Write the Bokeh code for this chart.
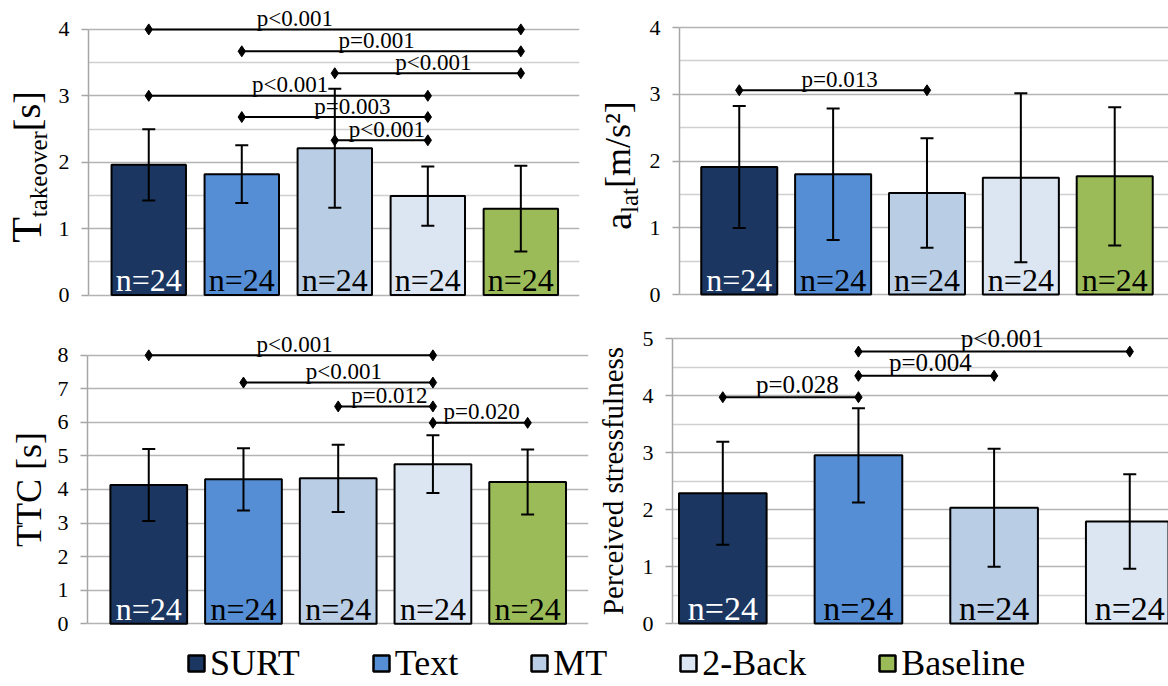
import math
from bokeh.plotting import figure
from bokeh.models import Range1d, FixedTicker, Legend, LegendItem, ColumnDataSource
from bokeh.layouts import column, row
from bokeh.embed import file_html
from bokeh.resources import INLINE
from bokeh.core.properties import value

FONT = "Liberation Serif"

# ---------------------------------------------------------------- data
conditions = ["SURT", "Text", "MT", "2-Back", "Baseline"]
bar_colors = ["#1b3660", "#558ed5", "#b9cde5", "#dce6f2", "#9bbb59"]
n_colors = ["white", "black", "black", "black", "black"]

# take-over time [s]
takeover_mean = [1.96, 1.82, 2.21, 1.49, 1.30]
takeover_sd = [0.535, 0.435, 0.895, 0.447, 0.645]
takeover_n = [24, 24, 24, 24, 24]
# (first group, second group, bracket level, result)
takeover_tests = [
    (1, 5, 4.00, "p<0.001"),
    (2, 5, 3.67, "p=0.001"),
    (3, 5, 3.34, "p<0.001"),
    (1, 4, 3.00, "p<0.001"),
    (2, 4, 2.68, "p=0.003"),
    (3, 4, 2.33, "p<0.001"),
]

# lateral acceleration [m/s²]
lat_mean = [1.91, 1.80, 1.52, 1.75, 1.77]
lat_sd = [0.915, 0.985, 0.82, 1.265, 1.035]
lat_n = [24, 24, 24, 24, 24]
lat_tests = [(1, 3, 3.06, "p=0.013")]

# time to collision [s]
ttc_mean = [4.13, 4.30, 4.33, 4.75, 4.22]
ttc_sd = [1.07, 0.925, 1.00, 0.86, 0.965]
ttc_n = [24, 24, 24, 24, 24]
ttc_tests = [
    (1, 4, 7.99, "p<0.001"),
    (2, 4, 7.18, "p<0.001"),
    (3, 4, 6.47, "p=0.012"),
    (4, 5, 5.98, "p=0.020"),
]

# perceived stressfulness
stress_mean = [2.285, 2.95, 2.03, 1.79]
stress_sd = [0.905, 0.825, 1.035, 0.83]
stress_n = [24, 24, 24, 24]
stress_tests = [
    (1, 2, 3.97, "p=0.028"),
    (2, 3, 4.345, "p=0.004"),
    (2, 4, 4.77, "p<0.001"),
]

# ---------------------------------------------------------------- helpers
# Times-compatible advance widths (em) for the axis-title glyphs
ADV = {"T": .611, "C": .667, "a": .444, "k": .5, "e": .444, "o": .5, "v": .5,
       "r": .333, "t": .278, "l": .278, " ": .25, "[": .333, "]": .333,
       "s": .389, "m": .778, "/": .278, "²": .3, "P": .556, "c": .444,
       "i": .278, "d": .5, "f": .333, "u": .5, "n": .5}

AXIS_ROOM = 31  # room kept for ticks and tick labels left of each frame


def text_px(t, size):
    return sum(ADV[c] for c in t) * size


def make_panel(width, height, left, right, top, bottom, first_x, step, zero_y, ppu,
               ymax, major, minor, title_pieces, title_mid):
    """A title strip plus a bar panel; pixel geometry is given for the whole cell."""
    tw = left - AXIS_ROOM
    y0 = -(bottom - zero_y) / ppu
    y1 = (zero_y - top) / ppu
    x0 = 1 - (first_x - left) / step
    x1 = 1 + (right - first_x) / step

    # vertical axis title drawn as rotated text in its own strip
    t = figure(width=tw, height=height, x_range=Range1d(0, tw), y_range=Range1d(y0, y1),
               min_border_left=0, min_border_right=0, min_border_top=top,
               min_border_bottom=height - bottom, x_axis_type=None, y_axis_type=None,
               toolbar_location=None, output_backend="svg", outline_line_color=None)
    total = sum(text_px(s, fs) for s, fs, _ in title_pieces)
    y = ymax / 2 - total / 2 / ppu
    for s, fs, dx in title_pieces:
        t.text(x=[title_mid + dx], y=[y], text=[s], angle=math.pi / 2,
               text_font=value(FONT), text_font_size=f"{fs}px", text_color="black",
               text_align="left", text_baseline="middle")
        y += text_px(s, fs) / ppu

    p = figure(width=width - tw, height=height,
               x_range=Range1d(x0, x1), y_range=Range1d(y0, y1),
               min_border_left=AXIS_ROOM, min_border_right=width - right,
               min_border_top=top, min_border_bottom=height - bottom,
               x_axis_type=None, toolbar_location=None, output_backend="svg",
               outline_line_color=None, background_fill_color="white")
    p.yaxis.ticker = FixedTicker(ticks=major, minor_ticks=minor)
    p.yaxis.bounds = (0, ymax)
    p.yaxis.axis_line_color = "#a6a6a6"
    p.yaxis.axis_line_width = 1.5
    p.yaxis.major_tick_line_color = "#a6a6a6"
    p.yaxis.major_tick_line_width = 1.5
    p.yaxis.major_tick_out = 7
    p.yaxis.major_tick_in = 0
    p.yaxis.minor_tick_out = 0
    p.yaxis.minor_tick_in = 0
    p.yaxis.major_label_text_font = FONT
    p.yaxis.major_label_text_font_size = "22px"
    p.yaxis.major_label_text_color = "black"
    p.yaxis.major_label_standoff = 12
    p.ygrid.grid_line_color = "#b4b4b4"
    p.ygrid.grid_line_width = 1.5
    p.ygrid.minor_grid_line_color = "#d0d0d0" if minor else None
    p.ygrid.minor_grid_line_width = 1.5
    p.xgrid.visible = False
    return t, p


def draw_bars(p, means, sds, ns, tests, shifts, bar_width, n_size, p_size, p_lift):
    k = len(means)
    xs = list(range(1, k + 1))
    p.vbar(x=xs, top=means, width=bar_width, fill_color=bar_colors[:k],
           line_color="black", line_width=2)
    lows = [m - s for m, s in zip(means, sds)]
    highs = [m + s for m, s in zip(means, sds)]
    p.segment(x0=xs, y0=lows, x1=xs, y1=highs, line_color="black", line_width=2)
    p.scatter(x=xs + xs, y=lows + highs, marker="dash", size=13,
              line_color="black", line_width=2)
    p.text(x=xs, y=[0] * k, text=[f"n={n}" for n in ns], text_color=n_colors[:k],
           text_font=value(FONT), text_font_size=f"{n_size}px",
           text_align="center", text_baseline="middle", y_offset=-15)
    a = [t[0] for t in tests]
    b = [t[1] for t in tests]
    lv = [t[2] for t in tests]
    p.segment(x0=a, y0=lv, x1=b, y1=lv, line_color="black", line_width=2)
    p.scatter(x=a + b, y=lv + lv, marker="diamond", size=11, color="black")
    p.text(x=[(i + j) / 2 + s for i, j, s in zip(a, b, shifts)], y=lv,
           text=[t[3] for t in tests], text_color="black",
           text_font=value(FONT), text_font_size=f"{p_size}px",
           text_align="center", text_baseline="middle", y_offset=-p_lift)


# ---------------------------------------------------------------- panels
t1, p1 = make_panel(584, 320, 86, 579, 5, 297, 146.5, 93.4, 294.5, 66.4, 4,
                    [0, 1, 2, 3, 4], [0.5, 1.5, 2.5, 3.5],
                    [("T", 42, 0), ("takeover", 25, 12), (" [s]", 38, 0)], 26)
draw_bars(p1, takeover_mean, takeover_sd, takeover_n, takeover_tests,
          [-0.43, -0.05, 0.06, 0.02, 0.19, 0.06], 0.80, 32, 23, 11)

t2, p2 = make_panel(584, 320, 93, 584, 5, 297, 153, 94.25, 294, 66.75, 4,
                    [0, 1, 2, 3, 4], [0.5, 1.5, 2.5, 3.5],
                    [("a", 38, 0), ("lat", 25, 12), (" [m/s²]", 36, 0)], 33)
draw_bars(p2, lat_mean, lat_sd, lat_n, lat_tests, [0.07], 0.81, 32, 23, 11)

# both lower cells share the same top border so the row keeps them aligned
t3, p3 = make_panel(590, 320, 85, 588, 4, 306, 146.5, 95.1, 303.3, 33.6, 8,
                    list(range(9)), [], [("TTC [s]", 36, 0)], 28)
draw_bars(p3, ttc_mean, ttc_sd, ttc_n, ttc_tests, [0.04, 0.06, 0.04, 0.015],
          0.81, 32, 23, 11)

t4, p4 = make_panel(578, 320, 80, 578, 4, 306, 130.5, 136.2, 303, 57, 5,
                    [0, 1, 2, 3, 4, 5], [0.5, 1.5, 2.5, 3.5, 4.5],
                    [("Perceived stressfulness", 29, 0)], 22)
draw_bars(p4, stress_mean, stress_sd, stress_n, stress_tests, [0.05, 0.03, 0.06],
          0.646, 34, 25, 13)

# ---------------------------------------------------------------- legend
leg = figure(width=1168, height=46, x_range=Range1d(0, 1), y_range=Range1d(0, 1),
             min_border=0, x_axis_type=None, y_axis_type=None,
             toolbar_location=None, output_backend="svg", outline_line_color=None)
# hidden swatch renderer: only its legend entries are shown
swatch = leg.vbar(x="x", top="top", width=0.05, fill_color="color",
                  line_color="black", line_width=2.5, visible=False,
                  source=ColumnDataSource(dict(x=[0.5] * len(conditions),
                                               top=[0.5] * len(conditions),
                                               color=bar_colors)))
items = [LegendItem(label=name, renderers=[swatch], index=i)
         for i, name in enumerate(conditions)]
legend = Legend(items=items, orientation="horizontal", location=(186, 2),
                spacing=71, label_standoff=4, glyph_width=20, glyph_height=20,
                padding=0, margin=0, border_line_alpha=0, background_fill_alpha=0,
                inactive_fill_alpha=0,
                label_text_font=FONT, label_text_font_size="36px",
                label_text_color="black")
leg.add_layout(legend)

layout = column(row(t1, p1, t2, p2), row(t3, p3, t4, p4), leg)
open("out.html", "w").write(file_html(layout, INLINE))
